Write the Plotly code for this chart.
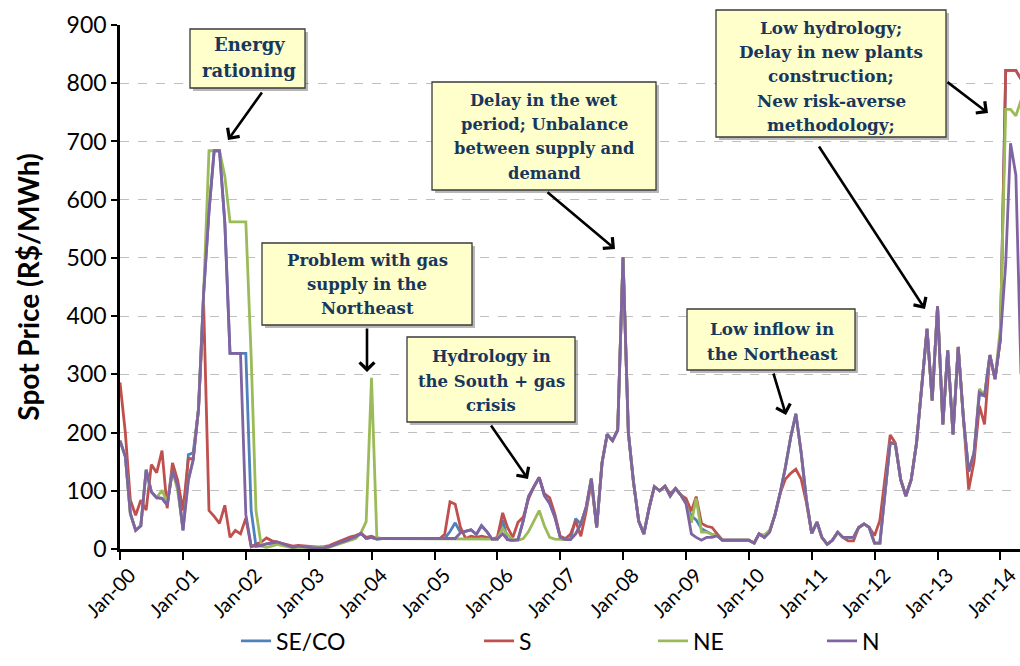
import plotly.graph_objects as go
import pandas as pd

# ---------------- data (monthly average spot price, R$/MWh) ----------------
months = pd.date_range("2000-01-01", periods=173, freq="MS")

series_names = ["SE/CO", "S", "NE", "N"]

se_co = [
    186, 159, 61, 32, 40, 136, 98, 88, 87, 76, 135, 109,          # 2000
    32, 162, 165, 240, 440, 580, 684, 684, 560, 336, 336, 336,    # 2001
    336, 66, 5, 6, 9, 10, 12, 9, 6, 3, 5, 4,                      # 2002
    2, 2, 2, 2, 4, 8, 11, 14, 18, 21, 27, 18,                     # 2003
    20, 17, 18, 18, 18, 18, 18, 18, 18, 18, 18, 18,               # 2004
    18, 18, 18, 30, 45, 28, 31, 33, 25, 40, 30, 17,               # 2005
    17, 50, 16, 15, 16, 49, 90, 107, 123, 92, 78, 55,             # 2006
    20, 16, 16, 52, 43, 72, 121, 37, 148, 197, 186, 204,          # 2007
    501, 200, 117, 48, 26, 71, 107, 100, 108, 91, 104, 93,        # 2008
    78, 57, 50, 35, 30, 25, 23, 15, 15, 15, 15, 15,               # 2009
    15, 10, 26, 20, 29, 58, 95, 140, 192, 232, 165, 85,           # 2010
    27, 46, 20, 8, 15, 29, 20, 20, 20, 37, 43, 37,                # 2011
    10, 10, 100, 183, 180, 119, 91, 119, 182, 275, 378, 255,      # 2012
    417, 214, 341, 197, 347, 222, 133, 165, 265, 263, 333, 292,   # 2013
    360, 822, 822, 822, 807,                                      # 2014
]

s = [
    286, 200, 84, 58, 84, 67, 145, 131, 169, 70, 148, 118,
    66, 155, 155, 240, 420, 66, 56, 44, 75, 20, 32, 26,
    53, 4, 8, 12, 19, 14, 12, 10, 7, 5, 6, 5,
    4, 3, 3, 4, 6, 10, 14, 17, 21, 23, 27, 20,
    22, 18, 18, 18, 18, 18, 18, 18, 18, 18, 18, 18,
    18, 18, 25, 81, 77, 37, 18, 22, 20, 22, 20, 17,
    20, 62, 37, 20, 46, 55, 86, 107, 123, 95, 88, 60,
    22, 18, 25, 48, 22, 65, 115, 37, 148, 197, 186, 204,
    501, 200, 117, 48, 26, 71, 107, 100, 108, 95, 104, 93,
    87, 65, 90, 44, 39, 37, 26, 15, 15, 15, 15, 15,
    15, 10, 26, 20, 29, 58, 95, 120, 130, 137, 120, 80,
    27, 46, 20, 8, 15, 29, 20, 14, 14, 37, 43, 37,
    23, 49, 125, 196, 182, 119, 91, 119, 182, 275, 378, 255,
    417, 214, 341, 197, 347, 222, 102, 150, 246, 214, 333, 292,
    360, 822, 822, 822, 807,
]

ne = [
    186, 159, 61, 32, 40, 136, 98, 88, 101, 80, 135, 100,
    35, 118, 153, 240, 440, 684, 684, 684, 640, 562, 562, 562,
    562, 330, 66, 5, 3, 5, 8, 6, 4, 2, 3, 3,
    2, 2, 2, 2, 3, 6, 9, 12, 15, 18, 28, 47,
    294, 20, 18, 18, 18, 18, 18, 18, 18, 18, 18, 18,
    18, 18, 18, 18, 17, 17, 17, 17, 17, 17, 17, 17,
    17, 35, 25, 16, 15, 18, 30, 48, 66, 40, 20, 17,
    16, 16, 16, 26, 43, 72, 121, 37, 148, 197, 186, 204,
    501, 200, 117, 48, 26, 71, 107, 100, 108, 91, 104, 93,
    78, 45, 87, 29, 29, 25, 23, 15, 15, 15, 15, 15,
    15, 10, 26, 24, 32, 58, 95, 140, 192, 232, 165, 85,
    27, 46, 20, 8, 15, 29, 20, 20, 20, 37, 43, 37,
    10, 10, 100, 183, 180, 119, 91, 119, 182, 275, 378, 255,
    417, 214, 341, 197, 347, 222, 133, 165, 275, 263, 333, 292,
    380, 755, 755, 744, 771,
]

n = [
    186, 159, 61, 32, 40, 136, 98, 88, 87, 76, 135, 109,
    32, 118, 153, 240, 440, 580, 684, 684, 560, 336, 336, 336,
    59, 5, 5, 6, 9, 10, 12, 9, 6, 3, 5, 4,
    2, 2, 2, 2, 4, 8, 11, 14, 18, 21, 27, 18,
    20, 17, 18, 18, 18, 18, 18, 18, 18, 18, 18, 18,
    18, 18, 18, 18, 18, 28, 31, 33, 25, 40, 30, 17,
    17, 26, 16, 15, 16, 49, 90, 107, 123, 92, 78, 55,
    20, 16, 16, 26, 43, 72, 121, 37, 148, 197, 186, 204,
    501, 200, 117, 48, 26, 71, 107, 100, 108, 91, 104, 93,
    78, 26, 20, 15, 20, 20, 23, 15, 15, 15, 15, 15,
    15, 10, 26, 20, 29, 58, 95, 140, 192, 232, 165, 85,
    27, 46, 20, 8, 15, 29, 20, 20, 20, 37, 43, 37,
    10, 10, 100, 183, 180, 119, 91, 119, 182, 275, 378, 255,
    417, 214, 341, 197, 347, 222, 133, 165, 269, 263, 333, 292,
    362, 490, 697, 642, 300,
]

series_values = [se_co, s, ne, n]
series_colors = ["#4F81BD", "#C0504D", "#9BBB59", "#8064A2"]

event_notes = [
    ["Energy", "rationing"],
    ["Problem with gas", "supply in the", "Northeast"],
    ["Hydrology in", "the South + gas", "crisis"],
    ["Delay in the wet", "period; Unbalance", "between supply and", "demand"],
    ["Low inflow in", "the Northeast"],
    ["Low hydrology;", "Delay in new plants", "construction;", "New risk-averse", "methodology;"],
]

# ---------------- layout helpers (pixel -> paper) ----------------
W, H = 1020, 666
PL, PR, PT, PB = 120, 1020, 25, 549


def px(x):
    return (x - PL) / (PR - PL)


def py(y):
    return (PB - y) / (PB - PT)


fig = go.Figure()
legend_ids = ["legend", "legend2", "legend3", "legend4"]
for name, vals, col, lg in zip(series_names, series_values, series_colors, legend_ids):
    fig.add_trace(go.Scatter(
        x=months, y=vals, name=name, mode="lines",
        line=dict(color=col, width=2.8), legend=lg, showlegend=True,
    ))

# ---------------- annotation boxes ----------------
# (x0, x1, y0, y1, line centres, text centre x, font size)
box_geom = [
    (190, 305, 29, 88, [45, 71], 249, 18),
    (262, 472, 243, 325, [260, 284, 308], 367, 16.5),
    (407, 575, 337, 422, [356, 381, 405], 491, 16.5),
    (432, 656, 82, 190, [100, 124, 149, 173], 544, 16.3),
    (687, 855, 309, 370, [329, 354], 772, 16.8),
    (716, 946, 10, 137, [28, 52, 76, 101, 125], 831, 16.8),
]

shapes = []
annotations = []
for (x0, x1, y0, y1, ys, cx, fs), lines in zip(box_geom, event_notes):
    shapes.append(dict(type="rect", xref="paper", yref="paper", layer="above",
                       x0=px(x0 + 3), x1=px(x1 + 3), y0=py(y1 + 3), y1=py(y0 + 3),
                       fillcolor="rgba(0,0,0,0.28)", line=dict(width=0)))
    shapes.append(dict(type="rect", xref="paper", yref="paper", layer="above",
                       x0=px(x0), x1=px(x1), y0=py(y1), y1=py(y0),
                       fillcolor="#FFFFCC", line=dict(color="#3A3A3A", width=1.3)))
    for ln, yy in zip(lines, ys):
        annotations.append(dict(
            text="<b>" + ln + "</b>", xref="paper", yref="paper",
            x=px(cx), y=py(yy), xanchor="center", yanchor="middle",
            showarrow=False, font=dict(family="DejaVu Serif", size=fs, color="#17375E"),
        ))

arrows = [
    ((263, 91), (228, 140)),
    ((367, 327), (367, 372)),
    ((490, 424), (528, 479)),
    ((546, 191), (615, 249)),
    ((773, 372), (786, 415)),
    ((818, 145), (925, 309)),
    ((946, 81), (988, 113)),
]
for (tx, ty), (hx, hy) in arrows:
    annotations.append(dict(
        text="", xref="paper", yref="paper", x=px(hx), y=py(hy),
        ax=tx - hx, ay=ty - hy, axref="pixel", ayref="pixel",
        showarrow=True, arrowhead=4, arrowsize=1.1, arrowwidth=2.6,
        arrowcolor="#000000", standoff=0, startstandoff=0,
    ))

legend_common = dict(orientation="h", yanchor="middle", xanchor="left",
                     xref="container", yref="container",
                     font=dict(family="Lato", size=23, color="#000000"),
                     bgcolor="rgba(0,0,0,0)", borderwidth=0)
legend_x = [236, 479, 653, 822]
legend_y = 641

fig.update_layout(
    width=W, height=H,
    margin=dict(l=PL, r=W - PR, t=PT, b=H - PB, autoexpand=False),
    paper_bgcolor="white", plot_bgcolor="white",
    showlegend=True,
    shapes=shapes, annotations=annotations,
    legend=dict(x=legend_x[0] / W, y=1 - legend_y / H, **legend_common),
    legend2=dict(x=legend_x[1] / W, y=1 - legend_y / H, **legend_common),
    legend3=dict(x=legend_x[2] / W, y=1 - legend_y / H, **legend_common),
    legend4=dict(x=legend_x[3] / W, y=1 - legend_y / H, **legend_common),
    xaxis=dict(
        type="date", range=["2000-01-01", "2014-04-25"], automargin=False,
        tick0="2000-01-01", dtick="M12", tickformat="%b-%y", tickangle=-45,
        ticklabelshift=10, ticklabelstandoff=-4, ticklabeloverflow="allow",
        ticks="outside", ticklen=8, tickwidth=2, tickcolor="black",
        showline=True, linewidth=2.5, linecolor="black", showgrid=False,
        tickfont=dict(family="Lato", size=20, color="black"),
    ),
    yaxis=dict(
        range=[0, 900], dtick=100, tick0=0, automargin=False,
        showgrid=True, gridcolor="#BFBFBF", griddash="dash", gridwidth=1,
        zeroline=False, showline=True, linewidth=2.5, linecolor="black",
        ticks="outside", ticklen=6, tickwidth=2, tickcolor="black",
        tickfont=dict(family="Lato", size=23, color="black"),
        title=dict(text="Spot Price (R$/MWh)", standoff=19,
                   font=dict(family="Lato", size=28, color="black", weight="bold")),
    ),
)

fig.write_html(
    "out.html",
    config={"displayModeBar": False},
    post_script="document.body.style.margin='0';"
                "document.body.style.overflow='hidden';"
                "document.documentElement.style.overflow='hidden';",
)
